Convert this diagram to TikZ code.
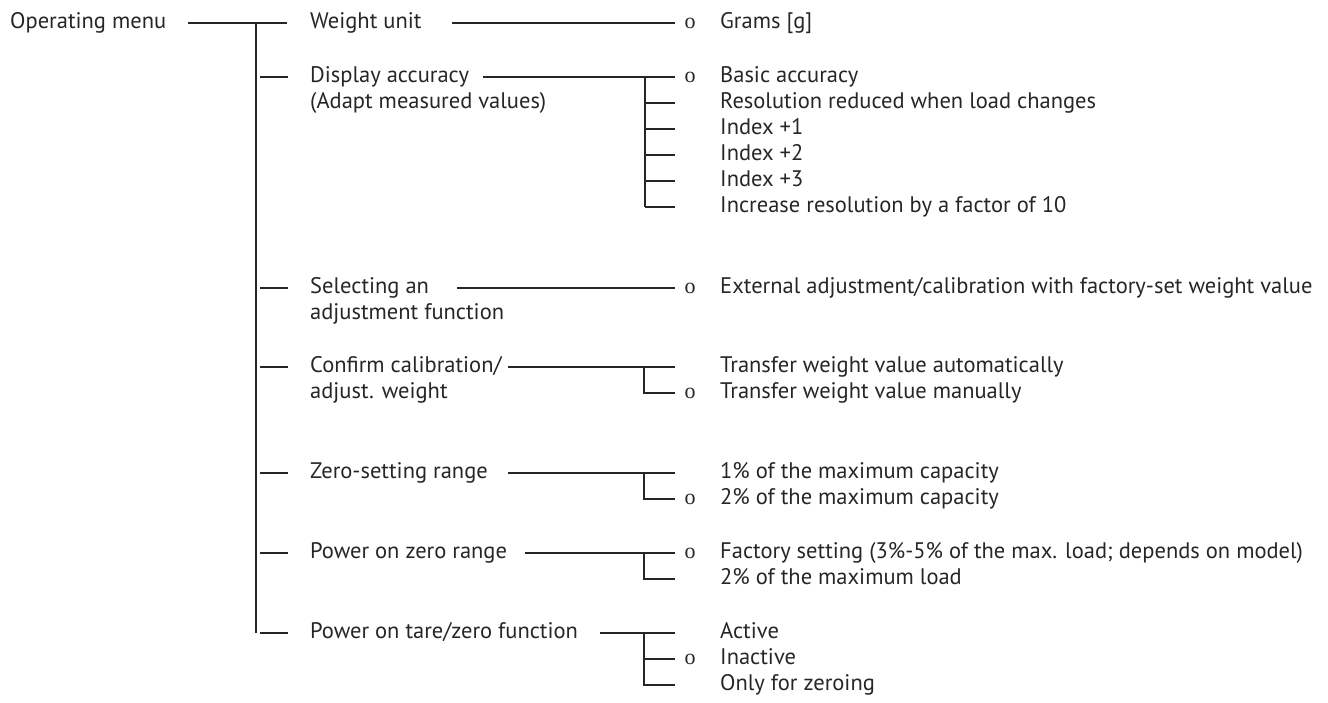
\documentclass[tikz,border=0pt]{standalone}
\usepackage{fontspec}
\setmainfont{PT Sans}
\newfontfamily\markfont{Liberation Serif}
\definecolor{ink}{HTML}{262626}
\begin{document}
\begin{tikzpicture}[x=1pt,y=-1pt,
  lbl/.style={anchor=base west, inner sep=0pt, text=ink, font=\fontsize{22.5}{26}\selectfont},
  dflt/.style={anchor=base, inner sep=0pt, text=ink, font=\markfont\fontsize{22}{26}\selectfont},
  conn/.style={draw=ink, line width=1.1pt}]
\useasboundingbox (0,0) rectangle (1328,702);
% root and first level
\node[lbl] (om) at (10,28) {Operating menu};
\node[lbl] (wu) at (310,28) {Weight unit};
\node[lbl] (da) at (310,82) {Display accuracy};
\node[lbl] (da2) at (310,108) {(Adapt measured values)};
\node[lbl] (sa) at (310,293) {Selecting an};
\node[lbl] (sa2) at (310,319) {adjustment function};
\node[lbl] (cc) at (310,372) {Confirm calibration/};
\node[lbl] (cc2) at (310,398) {adjust. weight};
\node[lbl] (zs) at (310,478) {Zero-setting range};
\node[lbl] (pz) at (310,558) {Power on zero range};
\node[lbl] (pt) at (310,638) {Power on tare/zero function};
% options
\node[lbl] (g1) at (720,28) {Grams [g]};
\node[lbl] (a1) at (720,82) {Basic accuracy};
\node[lbl] (a2) at (720,108) {Resolution reduced when load changes};
\node[lbl] (a3) at (720,134) {Index +1};
\node[lbl] (a4) at (720,160) {Index +2};
\node[lbl] (a5) at (720,186) {Index +3};
\node[lbl] (a6) at (720,212) {Increase resolution by a factor of 10};
\node[lbl] (s1) at (720,293) {External adjustment/calibration with factory-set weight value};
\node[lbl] (c1) at (720,372) {Transfer weight value automatically};
\node[lbl] (c2) at (720,398) {Transfer weight value manually};
\node[lbl] (z1) at (720,478) {1\% of the maximum capacity};
\node[lbl] (z2) at (720,504) {2\% of the maximum capacity};
\node[lbl] (p1) at (720,558) {Factory setting (3\%-5\% of the max. load; depends on model)};
\node[lbl] (p2) at (720,584) {2\% of the maximum load};
\node[lbl] (t1) at (720,638) {Active};
\node[lbl] (t2) at (720,664) {Inactive};
\node[lbl] (t3) at (720,690) {Only for zeroing};
% default markers
\foreach \n/\y in {mg/28, ma/82, ms/293, mc/398, mz/504, mp/558, mt/664}
  \node[dflt] (\n) at (690,\y) {o};
% trunk
\coordinate (rootL) at (188,23);
\coordinate (trTop) at (256,23);
\coordinate (trBot) at (256,633);
\draw[conn] (rootL) -- (287,23);
\draw[conn] (trTop) -- (trBot);
\foreach \y in {77,288,367,473,553,633}
  \draw[conn] (260,\y) -- (288,\y);
% second level connectors
\draw[conn] (452,23) -- (675,23);
\draw[conn] (483,77) -- (675,77);
\draw[conn] (645,77) -- (645,207);
\foreach \y in {103,129,155,181,207}
  \draw[conn] (645,\y) -- (675,\y);
\draw[conn] (457,288) -- (675,288);
\draw[conn] (508,367) -- (675,367);
\draw[conn] (644,367) -- (644,393) -- (675,393);
\draw[conn] (508,473) -- (675,473);
\draw[conn] (644,473) -- (644,499) -- (675,499);
\draw[conn] (525,553) -- (675,553);
\draw[conn] (644,553) -- (644,579) -- (675,579);
\draw[conn] (600,633) -- (675,633);
\draw[conn] (644,633) -- (644,685) -- (675,685);
\draw[conn] (644,659) -- (675,659);
\end{tikzpicture}
\end{document}
